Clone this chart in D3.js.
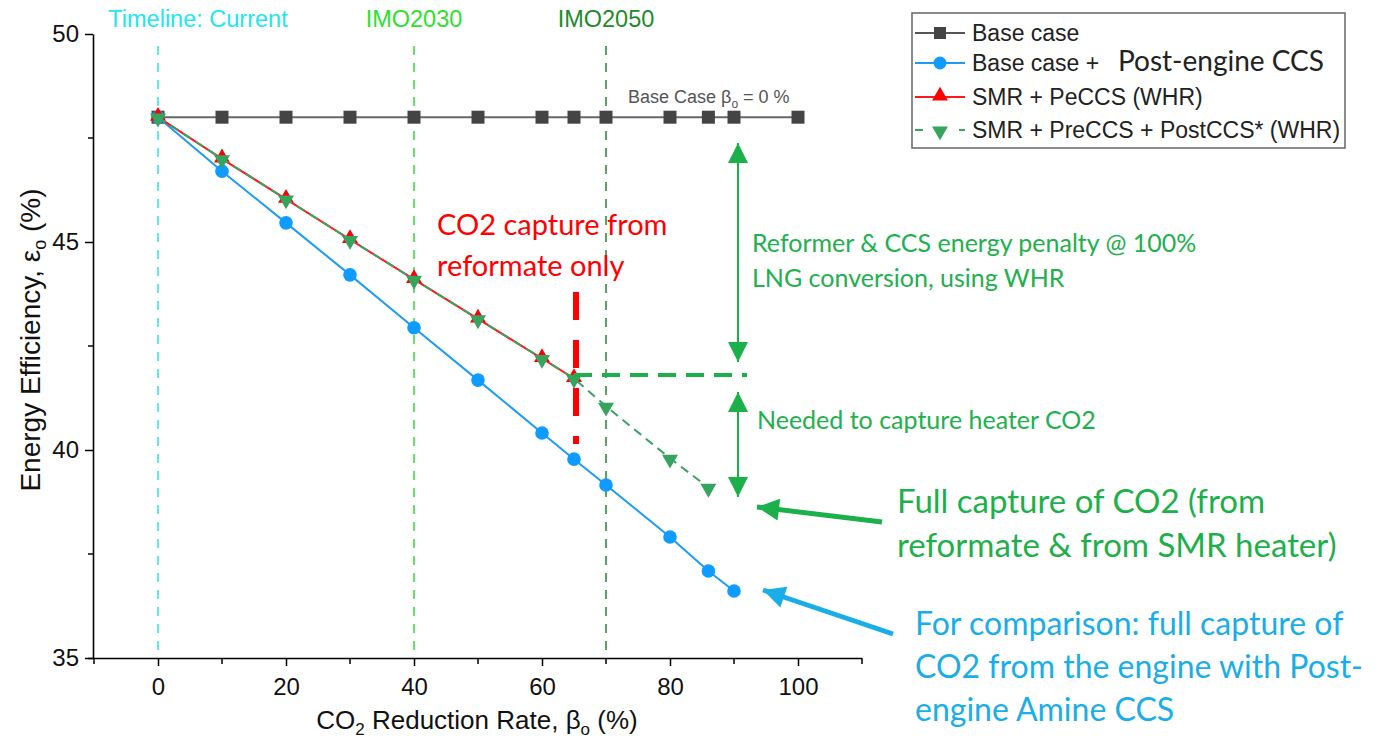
<!DOCTYPE html>
<html>
<head>
<meta charset="utf-8">
<script src="https://cdn.jsdelivr.net/npm/d3@7"></script>
<style>
body{margin:0;background:#fff;}
svg{display:block;}
</style>
</head>
<body>
<div id="chart"></div>
<script>
// data
var xBase=[0,10,20,30,40,50,60,65,70,80,86,90,100];
var yBase=[48,48,48,48,48,48,48,48,48,48,48,48,48];
var xBlue=[0,10,20,30,40,50,60,65,70,80,86,90];
var yBlue=[48,46.7,45.46,44.21,42.94,41.68,40.41,39.78,39.16,37.91,37.09,36.61];
var xRed=[0,10,20,30,40,50,60,65];
var yRed=[48,47.0,46.03,45.06,44.1,43.15,42.2,41.72];
var xGreen=[0,10,20,30,40,50,60,65,70,80,86];
var yGreen=[48,47.0,46.03,45.06,44.1,43.15,42.2,41.72,41.05,39.8,39.1];
var xTicks=[0,20,40,60,80,100];
var yTicks=[35,40,45,50];
var timeline=[{x:0,label:"Timeline: Current",color:"#22e6f0",dx:40},{x:40,label:"IMO2030",color:"#2fe02f",dx:0},{x:70,label:"IMO2050",color:"#1f8a2a",dx:0}];
var legendNames=["Base case","Base case +","SMR + PeCCS (WHR)","SMR + PreCCS + PostCCS* (WHR)"];

var W=1375,H=740;
var svg=d3.select("#chart").append("svg").attr("width",W).attr("height",H);

var x=d3.scaleLinear().domain([-10,110]).range([94,862]);
var y=d3.scaleLinear().domain([35,50]).range([658,34]);

function zip(xs,ys){return xs.map(function(v,i){return {x:v,y:ys[i]}})}

// defs for arrowheads
var defs=svg.append("defs");
function marker(id,color,w,h){
    defs.append("marker").attr("id",id).attr("viewBox","0 0 10 10").attr("refX",10).attr("refY",5)
        .attr("markerWidth",w).attr("markerHeight",h).attr("markerUnits","userSpaceOnUse").attr("orient","auto-start-reverse")
        .append("path").attr("d","M0,0L10,5L0,10Z").attr("fill",color);
}
marker("agreen","#1bb04a",22,20);
marker("agreenBig","#1bb04a",24,22);
marker("ablue","#1aaee8",24,22);

var ARIAL="Liberation Sans, Arial";
var CALI="Lato, Carlito, Calibri, sans-serif";

// timeline verticals
timeline.forEach(function(t){
    svg.append("line").attr("x1",x(t.x)).attr("x2",x(t.x)).attr("y1",46).attr("y2",658)
        .attr("stroke",t.color).attr("stroke-width",1.5).attr("stroke-dasharray","9,8");
    svg.append("text").attr("x",x(t.x)+t.dx).attr("y",27).attr("text-anchor","middle")
        .attr("font-family",ARIAL).attr("font-size",23.5).attr("fill",t.color).text(t.label);
});

// axes
var xAxis=d3.axisBottom(x).tickValues(xTicks).tickSize(8).tickSizeOuter(0).tickPadding(12);
var gx=svg.append("g").attr("transform","translate(0,658)").call(xAxis);
var yAxis=d3.axisLeft(y).tickValues(yTicks).tickSize(8).tickSizeOuter(0).tickPadding(6);
var gy=svg.append("g").attr("transform","translate(93,0)").call(yAxis);
[gx,gy].forEach(function(g){
    g.select(".domain").attr("stroke","#000").attr("stroke-width",1.6);
    g.selectAll(".tick line").attr("stroke","#000").attr("stroke-width",1.5);
    g.selectAll("text").attr("font-family",ARIAL).attr("font-size",24).attr("fill","#111");
});
gx.select(".domain").attr("d","M88,0.5H862");
// minor ticks
svg.append("g").selectAll("line").data([-10,10,30,50,70,90,110]).enter().append("line")
    .attr("x1",function(d){return x(d)}).attr("x2",function(d){return x(d)})
    .attr("y1",658).attr("y2",664).attr("stroke","#000").attr("stroke-width",1.5);
svg.append("g").selectAll("line").data([37.5,42.5,47.5]).enter().append("line")
    .attr("x1",88).attr("x2",93).attr("y1",function(d){return y(d)}).attr("y2",function(d){return y(d)})
    .attr("stroke","#000").attr("stroke-width",1.5);

// axis titles
var xt=svg.append("text").attr("x",477).attr("y",729).attr("text-anchor","middle")
    .attr("font-family",ARIAL).attr("font-size",26).attr("fill","#111");
xt.append("tspan").text("CO");
xt.append("tspan").attr("font-size",17).attr("dy",6).text("2");
xt.append("tspan").attr("dy",-6).text(" Reduction Rate, β");
xt.append("tspan").attr("font-size",17).attr("dy",6).text("o");
xt.append("tspan").attr("dy",-6).text(" (%)");
var yt=svg.append("text").attr("transform","translate(40,340) rotate(-90)").attr("text-anchor","middle")
    .attr("font-family",ARIAL).attr("font-size",28).attr("fill","#111");
yt.append("tspan").text("Energy Efficiency, ε");
yt.append("tspan").attr("font-size",18).attr("dy",6).text("o");
yt.append("tspan").attr("dy",-6).text(" (%)");

var line=d3.line().x(function(d){return x(d.x)}).y(function(d){return y(d.y)});

// series
var base=zip(xBase,yBase),blue=zip(xBlue,yBlue),red=zip(xRed,yRed),green=zip(xGreen,yGreen);
svg.append("path").datum(base).attr("d",line).attr("fill","none").attr("stroke","#666").attr("stroke-width",2);
svg.append("g").selectAll("rect").data(base).enter().append("rect")
    .attr("x",function(d){return x(d.x)-6.5}).attr("y",function(d){return y(d.y)-6.5})
    .attr("width",13).attr("height",13).attr("fill","#444");

svg.append("path").datum(blue).attr("d",line).attr("fill","none").attr("stroke","#1e9cf5").attr("stroke-width",2);
svg.append("g").selectAll("circle").data(blue).enter().append("circle")
    .attr("cx",function(d){return x(d.x)}).attr("cy",function(d){return y(d.y)}).attr("r",6.8).attr("fill","#0f9bff");

var triUp=d3.symbol().type(d3.symbolTriangle).size(110);
svg.append("path").datum(red).attr("d",line).attr("fill","none").attr("stroke","#ff1a1a").attr("stroke-width",2);
svg.append("g").selectAll("path").data(red).enter().append("path").attr("d",triUp)
    .attr("transform",function(d){return "translate("+x(d.x)+","+(y(d.y)-1)+")"}).attr("fill","#ff0000");

svg.append("path").datum(green).attr("d",line).attr("fill","none").attr("stroke","#3aa364").attr("stroke-width",2)
    .attr("stroke-dasharray","9,6");
svg.append("g").selectAll("path").data(green).enter().append("path").attr("d",triUp)
    .attr("transform",function(d){return "translate("+x(d.x)+","+(y(d.y)+1)+") rotate(180)"}).attr("fill","#36a35e");

// base case label
var bl=svg.append("text").attr("x",628).attr("y",103).attr("font-family",ARIAL)
    .attr("font-size",18).attr("fill","#555");
bl.append("tspan").text("Base Case β");
bl.append("tspan").attr("font-size",12).attr("dy",5).text("o");
bl.append("tspan").attr("dy",-5).text(" = 0 %");

// annotations
var redX=x(65);
svg.append("line").attr("x1",redX+2).attr("x2",redX+2).attr("y1",292).attr("y2",444)
    .attr("stroke","#ff0000").attr("stroke-width",6).attr("stroke-dasharray","28,20");
svg.append("line").attr("x1",redX).attr("x2",747).attr("y1",y(41.8)).attr("y2",y(41.8))
    .attr("stroke","#1bb04a").attr("stroke-width",4).attr("stroke-dasharray","18,10");
svg.append("line").attr("x1",738).attr("x2",738).attr("y1",143).attr("y2",362)
    .attr("stroke","#1bb04a").attr("stroke-width",2)
    .attr("marker-start","url(#agreen)").attr("marker-end","url(#agreen)");
svg.append("line").attr("x1",738).attr("x2",738).attr("y1",392).attr("y2",497)
    .attr("stroke","#1bb04a").attr("stroke-width",2)
    .attr("marker-start","url(#agreen)").attr("marker-end","url(#agreen)");
svg.append("line").attr("x1",882).attr("y1",522).attr("x2",757).attr("y2",507)
    .attr("stroke","#1bb04a").attr("stroke-width",5).attr("marker-end","url(#agreenBig)");
svg.append("line").attr("x1",893).attr("y1",634).attr("x2",763).attr("y2",590)
    .attr("stroke","#1aaee8").attr("stroke-width",5).attr("marker-end","url(#ablue)");

function multi(x0,lines,y0,dy,size,color){
    var t=svg.append("text").attr("font-family",CALI).attr("font-size",size).attr("fill",color);
    lines.forEach(function(s,i){t.append("tspan").attr("x",x0).attr("y",y0+i*dy).text(s)});
}
multi(437,["CO2 capture from","reformate only"],235,41,29,"#ff0000");
multi(752,["Reformer & CCS energy penalty @ 100%","LNG conversion, using WHR"],252,35,25,"#22b04e");
multi(757,["Needed to capture heater CO2"],429,0,25,"#22b04e");
multi(897,["Full capture of CO2 (from","reformate & from SMR heater)"],513,44,33,"#1db04a");
multi(915,["For comparison: full capture of","CO2 from the engine with Post-","engine Amine CCS"],635,43,32,"#1aaee8");

// legend
var lg=svg.append("g");
lg.append("rect").attr("x",912).attr("y",13).attr("width",433).attr("height",135)
    .attr("fill","#fff").attr("stroke","#666").attr("stroke-width",1.5);
var rows=[33,63,97,130];
var lgStyle=[{c:"#555",m:"sq",dash:null},{c:"#1e9cf5",m:"ci",dash:null},{c:"#ff1a1a",m:"up",dash:null},{c:"#3aa364",m:"dn",dash:"8,14"}];
lgStyle.forEach(function(s,i){
    var yy=rows[i];
    lg.append("line").attr("x1",915).attr("x2",965).attr("y1",yy).attr("y2",yy).attr("stroke",s.c).attr("stroke-width",2)
        .attr("stroke-dasharray",s.dash);
    if(s.m=="sq")lg.append("rect").attr("x",934).attr("y",yy-6).attr("width",12).attr("height",12).attr("fill","#444");
    if(s.m=="ci")lg.append("circle").attr("cx",940).attr("cy",yy).attr("r",6.5).attr("fill","#0f9bff");
    if(s.m=="up")lg.append("path").attr("d",triUp).attr("transform","translate(940,"+(yy-1)+")").attr("fill","#ff0000");
    if(s.m=="dn")lg.append("path").attr("d",triUp).attr("transform","translate(940,"+(yy+1)+") rotate(180)").attr("fill","#36a35e");
    lg.append("text").attr("x",972).attr("y",yy+8).attr("font-family",ARIAL).attr("font-size",23)
        .attr("fill","#222").text(legendNames[i]);
});
lg.append("text").attr("x",1118).attr("y",71).attr("font-family",CALI).attr("font-size",28)
    .attr("fill","#222").text("Post-engine CCS");
</script>
</body>
</html>
